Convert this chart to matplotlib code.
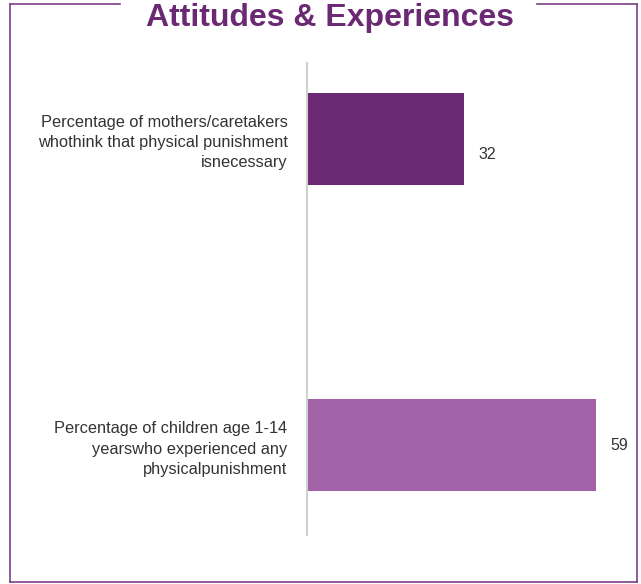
import matplotlib.pyplot as plt
from matplotlib.lines import Line2D

# data
labels = [
    "Percentage of mothers/caretakers\nwhothink that physical punishment\nisnecessary",
    "Percentage of children age 1-14\nyearswho experienced any\nphysicalpunishment",
]
values = [32, 59]
bar_colors = ["#6B2873", "#A263A9"]

W, H = 641, 584
fig = plt.figure(figsize=[W / 100, H / 100], dpi=100)
plt.rcParams['font.family'] = ['Liberation Sans', 'DejaVu Sans']

# axes box in pixels: left edge at the axis line, y from 63 to 535
ax = fig.add_axes([307 / W, 1 - 535 / H, 318.5 / W, 472 / H])
pos = list(range(len(values)))
ax.barh(pos, values, height=0.30, color=bar_colors)
ax.set_xlim(0, 65)
ax.set_ylim(1.294, -0.248)

for p, v in zip(pos, values):
    ax.text(v + 3.0, p + (0.05 if p == 0 else 0), str(v), va='center', ha='left',
            fontsize=11.5, color='#333333')

ax.set_yticks(pos)
ax.set_yticklabels(labels, fontsize=11.8, color='#333333', linespacing=1.42)
ax.tick_params(axis='y', length=0, pad=14)
ax.set_xticks([])
for s in ['top', 'right', 'bottom']:
    ax.spines[s].set_visible(False)
ax.spines['left'].set_color('#d0d0d0')
ax.spines['left'].set_linewidth(1.5)

# frame around the panel
fc = '#7B3F86'
def px_line(xs, ys):
    fig.add_artist(Line2D([x / W for x in xs], [1 - y / H for y in ys],
                          color=fc, linewidth=1.2))

px_line([10, 10], [4, 582])
px_line([637, 637], [4, 582])
px_line([10, 637], [582, 582])
px_line([10, 120], [4, 4])
px_line([537, 637], [4, 4])

fig.text(330 / W, 1 - 18 / H, "Attitudes & Experiences", ha='center', va='center',
         fontsize=23, fontweight='bold', color='#6B2873')

plt.savefig('out.png', dpi=100)
